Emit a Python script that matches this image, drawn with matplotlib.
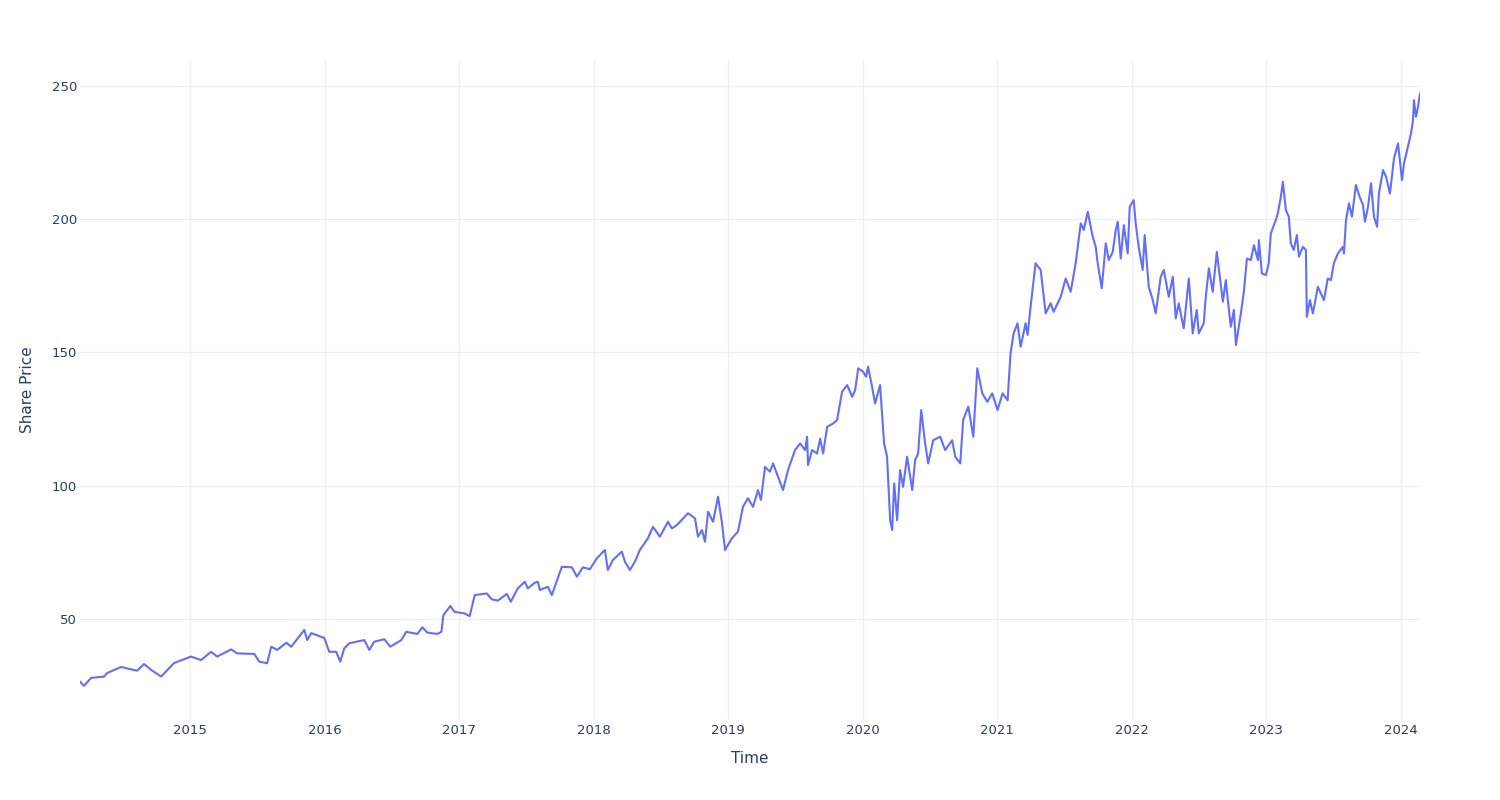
import numpy as np
import pandas as pd
import matplotlib
matplotlib.use("Agg")
import matplotlib.pyplot as plt
import matplotlib.dates as mdates

# time as decimal years
years = [
    2014.181, 2014.211, 2014.263, 2014.360, 2014.382, 2014.486, 2014.605, 2014.657,
    2014.710, 2014.784, 2014.881, 2015.007, 2015.082, 2015.156, 2015.201, 2015.305,
    2015.350, 2015.477, 2015.514, 2015.573, 2015.603, 2015.648, 2015.715, 2015.752,
    2015.849, 2015.871, 2015.901, 2015.998, 2016.035, 2016.087, 2016.117, 2016.147,
    2016.184, 2016.296, 2016.333, 2016.370, 2016.445, 2016.489, 2016.571, 2016.608,
    2016.690, 2016.727, 2016.765, 2016.839, 2016.869, 2016.884, 2016.936, 2016.966,
    2017.040, 2017.077, 2017.115, 2017.204, 2017.241, 2017.286, 2017.353, 2017.383,
    2017.435, 2017.487, 2017.509, 2017.561, 2017.584, 2017.599, 2017.658, 2017.688,
    2017.762, 2017.837, 2017.874, 2017.919, 2017.971, 2018.023, 2018.083, 2018.105,
    2018.142, 2018.209, 2018.232, 2018.269, 2018.306, 2018.343, 2018.403, 2018.440,
    2018.492, 2018.552, 2018.581, 2018.619, 2018.701, 2018.753, 2018.775, 2018.805,
    2018.827, 2018.850, 2018.887, 2018.924, 2018.954, 2018.976, 2019.028, 2019.073,
    2019.110, 2019.147, 2019.185, 2019.222, 2019.244, 2019.274, 2019.311, 2019.334,
    2019.371, 2019.408, 2019.445, 2019.497, 2019.535, 2019.572, 2019.587, 2019.594,
    2019.624, 2019.661, 2019.684, 2019.706, 2019.736, 2019.780, 2019.810, 2019.847,
    2019.885, 2019.922, 2019.944, 2019.967, 2020.004, 2020.026, 2020.041, 2020.071,
    2020.093, 2020.130, 2020.160, 2020.182, 2020.205, 2020.220, 2020.235, 2020.257,
    2020.279, 2020.301, 2020.331, 2020.369, 2020.391, 2020.413, 2020.436, 2020.465,
    2020.488, 2020.525, 2020.577, 2020.614, 2020.666, 2020.689, 2020.726, 2020.748,
    2020.786, 2020.823, 2020.853, 2020.890, 2020.927, 2020.964, 2021.001, 2021.039,
    2021.076, 2021.098, 2021.121, 2021.150, 2021.173, 2021.210, 2021.225, 2021.247,
    2021.284, 2021.322, 2021.359, 2021.396, 2021.418, 2021.471, 2021.508, 2021.545,
    2021.582, 2021.620, 2021.642, 2021.672, 2021.709, 2021.731, 2021.746, 2021.776,
    2021.806, 2021.828, 2021.858, 2021.880, 2021.895, 2021.917, 2021.940, 2021.969,
    2021.984, 2022.014, 2022.029, 2022.051, 2022.081, 2022.096, 2022.126, 2022.156,
    2022.178, 2022.215, 2022.238, 2022.275, 2022.305, 2022.327, 2022.349, 2022.386,
    2022.424, 2022.453, 2022.483, 2022.498, 2022.535, 2022.550, 2022.573, 2022.602,
    2022.632, 2022.655, 2022.677, 2022.699, 2022.714, 2022.736, 2022.759, 2022.774,
    2022.811, 2022.833, 2022.856, 2022.885, 2022.908, 2022.938, 2022.945, 2022.967,
    2022.997, 2023.019, 2023.034, 2023.071, 2023.086, 2023.109, 2023.124, 2023.146,
    2023.168, 2023.183, 2023.205, 2023.228, 2023.243, 2023.273, 2023.295, 2023.302,
    2023.325, 2023.347, 2023.384, 2023.406, 2023.429, 2023.458, 2023.481, 2023.503,
    2023.533, 2023.570, 2023.578, 2023.593, 2023.615, 2023.637, 2023.667, 2023.690,
    2023.719, 2023.734, 2023.757, 2023.779, 2023.801, 2023.824, 2023.838, 2023.868,
    2023.891, 2023.920, 2023.950, 2023.980, 2024.010, 2024.025, 2024.054, 2024.077,
    2024.092, 2024.099, 2024.114, 2024.129, 2024.144,
]

price = [
    26.4, 24.8, 27.8, 28.3, 29.6, 31.9, 30.5, 33.0,
    30.8, 28.3, 33.4, 35.8, 34.5, 37.6, 35.8, 38.5,
    37.0, 36.8, 33.9, 33.3, 39.5, 38.3, 41.0, 39.5,
    45.8, 42.0, 44.6, 42.8, 37.6, 37.6, 33.9, 38.9,
    40.8, 42.0, 38.3, 41.4, 42.3, 39.5, 42.0, 45.1,
    44.3, 46.8, 44.8, 44.3, 45.1, 51.4, 54.8, 52.6,
    52.0, 51.0, 58.9, 59.5, 57.3, 56.8, 59.3, 56.4,
    61.4, 63.9, 61.4, 63.5, 63.9, 60.8, 62.0, 58.9,
    69.5, 69.3, 65.8, 69.3, 68.6, 72.7, 75.8, 68.3,
    72.0, 75.2, 71.4, 68.3, 71.4, 75.8, 80.2, 84.5,
    80.8, 86.4, 83.9, 85.2, 89.6, 87.7, 80.8, 83.3,
    78.9, 90.2, 86.4, 95.8, 85.8, 75.8, 80.2, 82.7,
    92.0, 95.2, 92.0, 98.3, 94.6, 107.0, 105.2, 108.3,
    103.3, 98.3, 105.8, 113.3, 115.8, 113.3, 118.3, 107.7,
    113.3, 112.0, 117.6, 112.0, 122.0, 123.3, 124.6, 135.2,
    137.7, 133.3, 135.8, 144.0, 142.7, 140.8, 144.6, 137.0,
    130.8, 137.7, 115.8, 110.8, 87.0, 83.3, 100.8, 87.0,
    105.8, 99.5, 110.8, 98.3, 109.6, 112.0, 128.3, 115.8,
    108.3, 117.0, 118.3, 113.3, 117.0, 110.8, 108.3, 124.6,
    129.6, 118.3, 144.0, 134.6, 131.4, 134.6, 128.3, 134.6,
    132.0, 149.6, 157.1, 160.9, 152.1, 160.9, 156.5, 167.1,
    183.4, 180.9, 164.6, 168.4, 165.2, 170.8, 177.7, 172.7,
    183.4, 198.4, 195.9, 202.7, 193.4, 189.6, 183.4, 174.0,
    190.9, 184.6, 187.7, 195.9, 199.0, 185.2, 197.7, 187.1,
    204.6, 207.1, 198.4, 189.6, 180.9, 194.0, 174.6, 169.6,
    164.6, 178.3, 180.9, 170.8, 178.3, 162.7, 168.4, 159.0,
    177.7, 157.1, 165.9, 157.1, 160.9, 170.8, 181.5, 172.7,
    187.7, 178.3, 169.0, 177.1, 169.6, 159.6, 165.9, 152.7,
    164.6, 172.7, 185.2, 184.6, 190.2, 184.6, 192.1, 179.6,
    179.0, 183.4, 194.6, 199.6, 202.1, 208.4, 214.0, 203.4,
    200.9, 190.9, 188.4, 194.0, 185.9, 189.6, 188.4, 163.3,
    169.6, 164.6, 174.6, 172.1, 169.6, 177.7, 177.1, 183.4,
    187.1, 189.6, 187.1, 199.6, 205.9, 200.9, 212.8, 209.0,
    205.3, 199.0, 204.6, 213.4, 200.9, 197.1, 209.6, 218.4,
    215.9, 209.6, 222.8, 228.4, 214.6, 220.9, 227.1, 232.1,
    237.1, 244.6, 238.4, 242.1, 247.1,
]

yticks = [50, 100, 150, 200, 250]

# decimal year -> timestamp
dates = [pd.Timestamp(int(y), 1, 1) + pd.Timedelta(days=(y % 1) * 365.25) for y in years]

font_col = "#2a3f5f"
grid_col = "#EBF0F8"

fig = plt.figure(figsize=(15, 8), dpi=100)
ax = fig.add_axes([80 / 1500, 80 / 800, 1340 / 1500, 660 / 800])

ax.plot(dates, price, color="#636efa", lw=1.5, solid_joinstyle="round")

ax.set_xlim(dates[0], dates[-1])
ax.set_ylim(12.0, 259.7)
ax.set_yticks(yticks)
ax.xaxis.set_major_locator(mdates.YearLocator())
ax.xaxis.set_major_formatter(mdates.DateFormatter("%Y"))

ax.grid(True, color=grid_col, lw=1)
ax.set_axisbelow(True)
for s in ax.spines.values():
    s.set_visible(False)
ax.tick_params(length=0, labelsize=9.5, colors=font_col)
ax.tick_params(axis="y", pad=2)
ax.tick_params(axis="x", pad=3)

ax.set_xlabel("Time", fontsize=11, color=font_col, labelpad=10)
ax.set_ylabel("Share Price", fontsize=11, color=font_col, labelpad=12)

fig.savefig("out.png", dpi=100, facecolor="white")
